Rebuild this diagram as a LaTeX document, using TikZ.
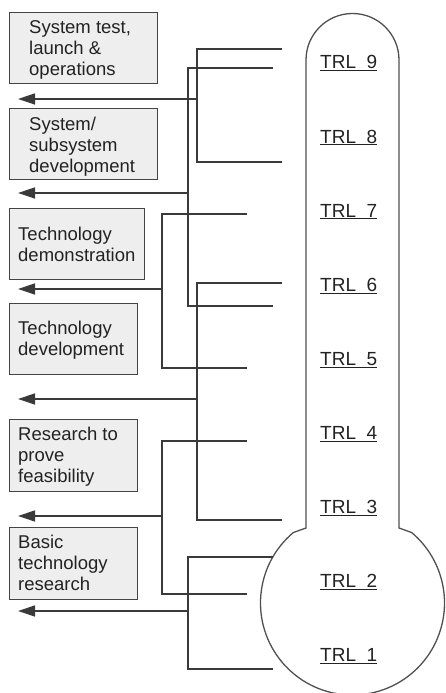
\documentclass[tikz,border=0pt]{standalone}
\usepackage{fontspec}
\setmainfont{Liberation Sans}
\usetikzlibrary{arrows.meta}
\definecolor{linec}{HTML}{3A3A3A}
\definecolor{boxline}{HTML}{444444}
\definecolor{boxfill}{HTML}{EEEEEE}
\definecolor{thermo}{HTML}{505050}
\definecolor{textc}{HTML}{222222}
\begin{document}
\begin{tikzpicture}[x=1pt,y=1pt,
  box/.style={draw=boxline, fill=boxfill, line width=1.3pt, inner sep=0pt, anchor=north west},
  boxtext/.style={align=left, inner sep=0pt, anchor=base west, font=\fontsize{18.5}{21.3}\selectfont, text=textc},
  trl/.style={inner sep=0pt, anchor=base west, font=\fontsize{19}{22}\selectfont, text=textc},
  conn/.style={draw=linec, line width=1.3pt},
  arr/.style={conn, -{Triangle[length=17pt,width=11pt]}}]
\useasboundingbox (0,0) rectangle (446,693);

% thermometer
\draw[draw=thermo, line width=1.3pt] (399,165) -- (399,633)
  arc[start angle=0, end angle=180, radius=46.5] -- (306,165)
  -- (293.36,160.48) arc[start angle=130, end angle=410, radius=92] -- cycle;

% TRL labels
\foreach \k in {1,...,9}
  \node[trl] (trl\k) at (320,{624-(9-\k)*74.1}) {\underline{TRL\ \ \k}};

% boxes
\node[box, minimum width=148pt, minimum height=71pt] (b1) at (9,681) {};
\node[box, minimum width=148pt, minimum height=71pt] (b2) at (9,585) {};
\node[box, minimum width=135pt, minimum height=71pt] (b3) at (9,485) {};
\node[box, minimum width=128pt, minimum height=71pt] (b4) at (9,390) {};
\node[box, minimum width=128pt, minimum height=72pt] (b5) at (9,274) {};
\node[box, minimum width=128pt, minimum height=72pt] (b6) at (9,166) {};

% texts (anchored at the baseline of their last line)
\node[boxtext] (b1t) at (29,617) {System test,\\launch \&\\operations};
\node[boxtext] (b2t) at (29,520) {System/\\subsystem\\development};
\node[boxtext] (b3t) at (18,431) {Technology\\demonstration};
\node[boxtext] (b4t) at (18,337) {Technology\\development};
\node[boxtext] (b5t) at (18,210) {Research to\\prove\\feasibility};
\node[boxtext] (b6t) at (18,102) {Basic\\technology\\research};

% bracket coordinates
\coordinate (u1) at (282,644); \coordinate (d1) at (282,531); \coordinate (m1) at (197,594); \coordinate (e1) at (18,594);
\coordinate (u2) at (273,625); \coordinate (d2) at (273,387); \coordinate (m2) at (188,500); \coordinate (e2) at (18,500);
\coordinate (u3) at (247,479); \coordinate (d3) at (247,325); \coordinate (m3) at (162,404); \coordinate (e3) at (18,404);
\coordinate (u4) at (282,410); \coordinate (d4) at (282,173); \coordinate (m4) at (197,294); \coordinate (e4) at (18,294);
\coordinate (u5) at (247,252); \coordinate (d5) at (247,99);  \coordinate (m5) at (162,177); \coordinate (e5) at (18,177);
\coordinate (u6) at (273,136); \coordinate (d6) at (273,24);  \coordinate (m6) at (188,82);  \coordinate (e6) at (18,82);

\foreach \i in {1,...,6}{
  \draw[conn] (u\i) -| (m\i) |- (d\i);
  \draw[arr] (m\i) -- (e\i);
}
\end{tikzpicture}
\end{document}
